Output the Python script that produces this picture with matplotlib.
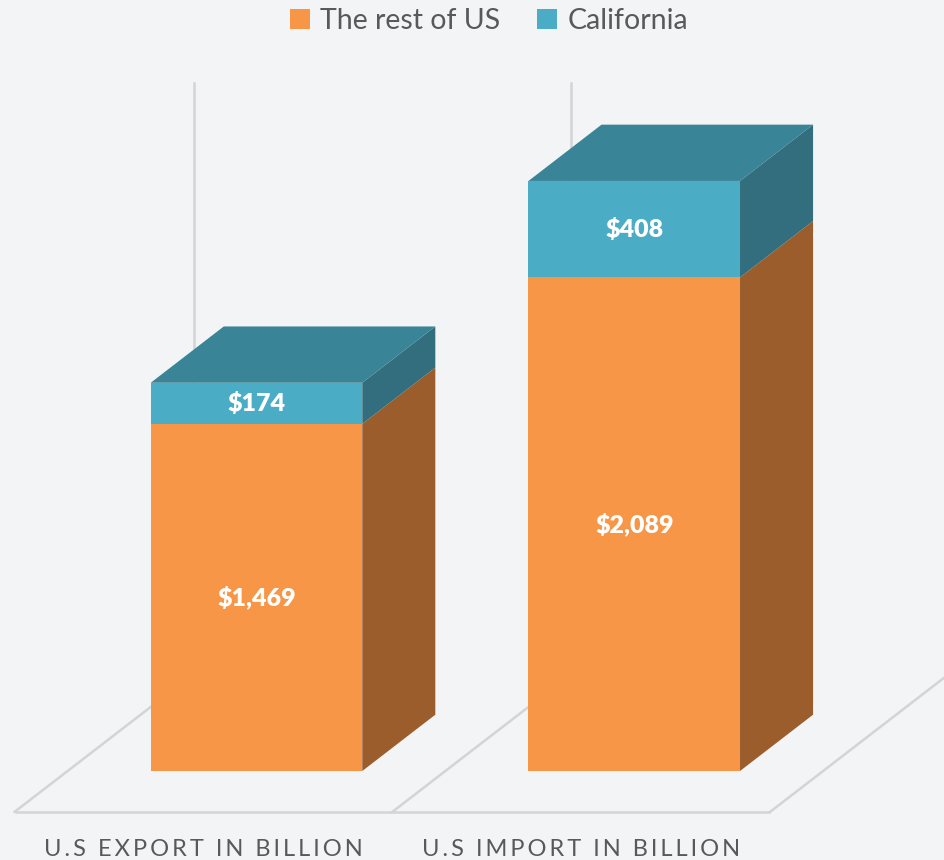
import matplotlib.pyplot as plt
from matplotlib.patches import Polygon, Patch

# data
categories = ['U.S EXPORT IN BILLION', 'U.S IMPORT IN BILLION']
series_names = ['The rest of US', 'California']
rest_of_us = [1469, 2089]
california = [174, 408]
axis_max = 2500

# styles
bg = '#F3F4F6'
grid_col = '#D4D4D4'
text_col = '#595959'
front_colors = ['#F79646', '#4BACC6']
top_colors = ['#B8702F', '#398497']
side_colors = ['#9B5D2B', '#326E7D']

# pseudo 3d geometry (category units / value units)
bar_width = 0.56
floor_dx, floor_dy = 0.474, 584
bar_front, bar_back = 0.296, 0.704


def shift(x, y, d):
    # move a point from the bar front plane to depth d of the floor
    return x + (d - bar_front) * floor_dx, y + (d - bar_front) * floor_dy


fig = plt.figure(figsize=(9.44, 8.6), dpi=100, facecolor=bg)
ax = fig.add_axes([0, 0, 1, 1])
ax.set_facecolor(bg)
ax.set_xlim(-0.679, 1.820)
ax.set_ylim(-376.6, 3262.8)
ax.axis('off')

n = len(categories)
bounds = [i - 0.5 for i in range(n + 1)]

# floor front edge
p0 = shift(bounds[0], 0, 0)
p1 = shift(bounds[-1], 0, 0)
ax.plot([p0[0], p1[0]], [p0[1], p1[1]], color=grid_col, lw=1.8, zorder=1,
        solid_capstyle='butt')
# floor slant lines and back wall lines
for b in bounds:
    a = shift(b, 0, 0)
    c = shift(b, 0, 1)
    t = shift(b, axis_max, 1)
    ax.plot([a[0], c[0]], [a[1], c[1]], color=grid_col, lw=1.8, zorder=1)
    ax.plot([c[0], t[0]], [c[1], t[1]], color=grid_col, lw=1.8, zorder=1)

# bars
stacks = [rest_of_us, california]
for i in range(n):
    x0 = i - bar_width / 2
    x1 = i + bar_width / 2
    bottom = 0
    for s, vals in enumerate(stacks):
        v = vals[i]
        top = bottom + v
        side = [shift(x1, bottom, bar_front), shift(x1, bottom, bar_back),
                shift(x1, top, bar_back), shift(x1, top, bar_front)]
        ax.add_patch(Polygon(side, closed=True, fc=side_colors[s], ec='none', zorder=3))
        if s == len(stacks) - 1:
            lid = [shift(x0, top, bar_front), shift(x1, top, bar_front),
                   shift(x1, top, bar_back), shift(x0, top, bar_back)]
            ax.add_patch(Polygon(lid, closed=True, fc=top_colors[s], ec='none', zorder=3))
        ax.bar(i, v, bottom=bottom, width=bar_width, color=front_colors[s],
               linewidth=0, zorder=4)
        ax.text(i, bottom + v / 2, f'${v:,}', color='white', fontsize=18,
                fontweight='heavy', family=['Lato', 'DejaVu Sans'],
                ha='center', va='center', zorder=5)
        bottom = top

# category labels under the floor
for i, cat in enumerate(categories):
    cx, cy = shift(i, 0, 0)
    spaced = '\u2009'.join(cat)
    ax.annotate(spaced, xy=(cx, cy), xytext=(0, -27), textcoords='offset points',
                ha='center', va='center', fontsize=17, color=text_col,
                family=['Lato', 'DejaVu Sans'])

handles = [Patch(facecolor=front_colors[k], edgecolor='none') for k in range(2)]
fig.legend(handles, series_names, loc='upper center', bbox_to_anchor=(0.518, 1.02),
           ncol=2, frameon=False, prop={'family': 'Lato', 'size': 20.5},
           labelcolor=text_col, handlelength=0.7, handleheight=0.7,
           handletextpad=0.35, columnspacing=1.3)

fig.savefig('out.png', dpi=100, facecolor=bg)
